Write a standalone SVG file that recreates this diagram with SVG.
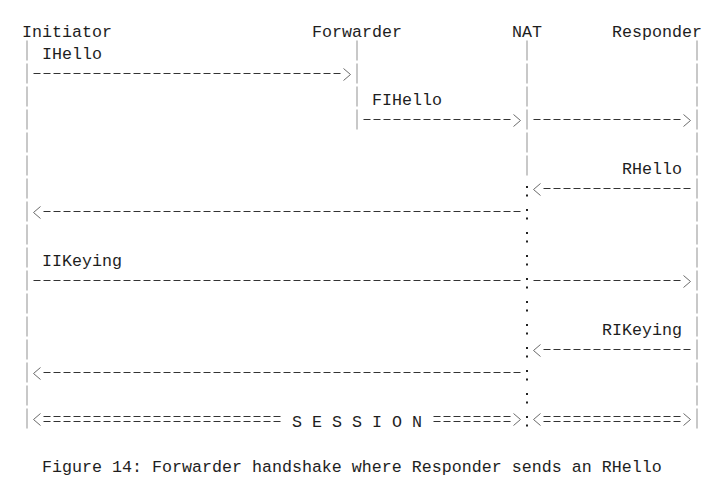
<svg xmlns="http://www.w3.org/2000/svg" width="725" height="498" viewBox="0 0 725 498">
<style>
  .t { font-family: "Liberation Mono", "DejaVu Sans Mono", monospace; font-size: 16.667px; fill: #1e1e1e; }
  .life { stroke: #c8c8c8; stroke-width: 2; fill: none; stroke-dasharray: 20 3; }
  .dots { stroke: #222; stroke-width: 2; fill: none; stroke-dasharray: 2 6.5 2 12.5; }
  .dash { stroke: #333; stroke-width: 1; fill: none; stroke-dasharray: 7 3; }
  .head { stroke: #6a6a6a; stroke-width: 1; fill: none; stroke-linejoin: miter; }
</style>
<rect width="725" height="498" fill="#ffffff"/>

<g id="initiator">
  <text class="t" x="22" y="37">Initiator</text>
  <path class="life" d="M27 40.5 V428.5"/>
</g>
<g id="forwarder">
  <text class="t" x="312" y="37">Forwarder</text>
  <path class="life" d="M357 40.5 V129.5"/>
</g>
<g id="nat">
  <text class="t" x="512" y="37">NAT</text>
  <path class="life" d="M527 40.5 V175.5"/>
  <path class="dots" d="M527 186 V427.5"/>
</g>
<g id="responder">
  <text class="t" x="612" y="37">Responder</text>
  <path class="life" d="M697 40.5 V428.5"/>
</g>

<g id="connectors">
  <g id="m-ihello">
    <text class="t" x="42" y="59">IHello</text>
    <path class="dash" d="M33.5 73.5 H340.5"/>
    <polyline class="head" points="343.5,68.5 350.5,74.5 343.5,80.5"/>
  </g>
  <g id="m-fihello">
    <text class="t" x="372" y="105">FIHello</text>
    <path class="dash" d="M363.5 119.5 H510.5"/>
    <polyline class="head" points="513.5,114.5 520.5,120.5 513.5,126.5"/>
    <path class="dash" d="M533.5 119.5 H680.5"/>
    <polyline class="head" points="683.5,114.5 690.5,120.5 683.5,126.5"/>
  </g>
  <g id="m-rhello">
    <text class="t" x="622" y="174">RHello</text>
    <polyline class="head" points="540.5,183.5 533.5,189.5 540.5,195.5"/>
    <path class="dash" d="M543.5 188.5 H690.5"/>
    <polyline class="head" points="40.5,206.5 33.5,212.5 40.5,218.5"/>
    <path class="dash" d="M43.5 211.5 H520.5"/>
  </g>
  <g id="m-iikeying">
    <text class="t" x="42" y="266">IIKeying</text>
    <path class="dash" d="M33.5 280.5 H520.5"/>
    <path class="dash" d="M533.5 280.5 H680.5"/>
    <polyline class="head" points="683.5,275.5 690.5,281.5 683.5,287.5"/>
  </g>
  <g id="m-rikeying">
    <text class="t" x="602" y="335">RIKeying</text>
    <polyline class="head" points="540.5,344.5 533.5,350.5 540.5,356.5"/>
    <path class="dash" d="M543.5 349.5 H690.5"/>
    <polyline class="head" points="40.5,367.5 33.5,373.5 40.5,379.5"/>
    <path class="dash" d="M43.5 372.5 H520.5"/>
  </g>
  <g id="m-session">
    <polyline class="head" points="40.5,413.5 33.5,419.5 40.5,425.5"/>
    <path class="dash" d="M43.5 416.5 H280.5 M43.5 421.5 H280.5"/>
    <text class="t" x="292" y="427">S E S S I O N</text>
    <path class="dash" d="M433.5 416.5 H510.5 M433.5 421.5 H510.5"/>
    <polyline class="head" points="513.5,413.5 520.5,419.5 513.5,425.5"/>
    <polyline class="head" points="540.5,413.5 533.5,419.5 540.5,425.5"/>
    <path class="dash" d="M543.5 416.5 H680.5 M543.5 421.5 H680.5"/>
    <polyline class="head" points="683.5,413.5 690.5,419.5 683.5,425.5"/>
  </g>
</g>

<text class="t" x="42" y="472">Figure 14: Forwarder handshake where Responder sends an RHello</text>
</svg>
